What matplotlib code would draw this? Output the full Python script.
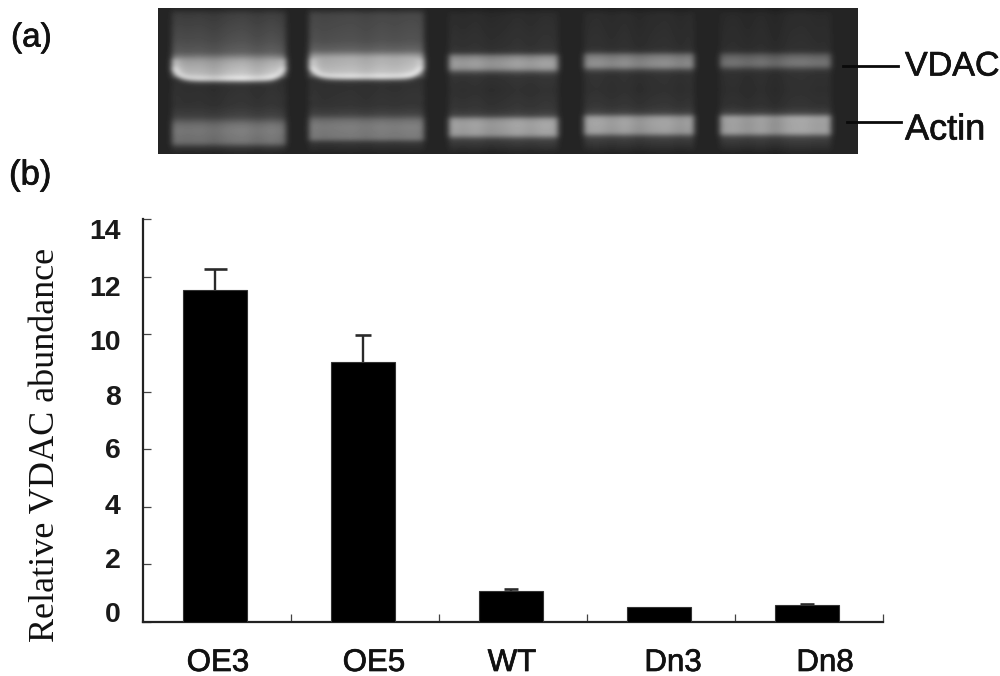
import numpy as np
import matplotlib
matplotlib.use("Agg")
import matplotlib.pyplot as plt
import matplotlib.patheffects as pe
from matplotlib.transforms import Affine2D

# ---- chart data ----
categories = ["OE3", "OE5", "WT", "Dn3", "Dn8"]
abundance = [11.53, 9.03, 1.08, 0.51, 0.58]
error_up = [0.73, 0.94, 0.07, 0.0, 0.05]
y_ticks = [0, 2, 4, 6, 8, 10, 12, 14]

# ---- gel picture description (grey levels, pixel rows of the figure) ----
lane_edges = [(171, 285), (308, 423), (448, 557), (583, 693), (719, 830)]
lane_rows = [
    [8, 14, 40, 52, 60, 64, 74, 79, 82, 86, 105, 116, 124, 130, 142, 147, 154],
    [8, 14, 40, 50, 57, 62, 72, 77, 80, 84, 105, 114, 120, 126, 138, 142, 154],
    [8, 14, 46, 52, 56, 62, 68, 72, 76, 90, 108, 115, 119, 124, 134, 139, 154],
    [8, 14, 46, 51, 55, 61, 66, 70, 74, 90, 106, 113, 117, 122, 132, 137, 154],
    [8, 14, 46, 51, 55, 61, 65, 69, 73, 90, 106, 113, 117, 122, 132, 137, 154],
]
lane_grey = [
    [38, 62, 78, 92, 160, 170, 190, 240, 68, 48, 52, 66, 112, 122, 112, 55, 33],
    [38, 70, 80, 98, 170, 175, 190, 240, 68, 48, 52, 66, 112, 125, 118, 55, 33],
    [33, 44, 50, 56, 135, 158, 150, 75, 52, 48, 54, 68, 152, 162, 155, 66, 33],
    [33, 44, 48, 54, 120, 140, 138, 70, 50, 48, 54, 68, 155, 162, 155, 66, 33],
    [33, 42, 46, 50, 95, 115, 110, 62, 48, 46, 50, 68, 162, 158, 158, 66, 33],
]
lane_mottle = [
    [1.00, 0.96, 0.98, 0.92, 1.02, 1.06, 0.97, 1.05, 0.95],
    [1.03, 0.97, 1.00, 1.02, 0.97, 1.03, 1.00, 1.04, 1.02],
    [1.03, 0.97, 1.02, 0.93, 0.97, 1.04, 0.98, 1.05, 1.02],
    [1.00, 1.04, 0.96, 1.03, 0.92, 1.00, 1.03, 0.94, 1.02],
    [0.97, 1.02, 0.94, 1.02, 0.90, 1.04, 1.06, 1.00, 1.02],
]
smile_lanes = [0, 1]
GEL_BOX = (157.5, 8, 857, 154)
BACKGROUND = 36

W, H = 1000, 676
plt.rcParams["font.family"] = ["Liberation Sans", "DejaVu Sans"]
fig = plt.figure(figsize=(W / 100, H / 100), dpi=100, facecolor="white")
STROKE = [pe.withStroke(linewidth=0.5, foreground="#111111")]


def box(l, t, r, b):
    return [l / W, 1 - b / H, (r - l) / W, (b - t) / H]


def blur(a, sigma, axis):
    n = int(3 * sigma)
    k = np.exp(-0.5 * (np.arange(-n, n + 1) / sigma) ** 2)
    k /= k.sum()
    pad = [(n, n) if i == axis else (0, 0) for i in range(2)]
    a = np.pad(a, pad, mode="edge")
    return np.apply_along_axis(lambda v: np.convolve(v, k, mode="valid"), axis, a)


# ---- gel (a) ----
l, t, r, b = GEL_BOX
xs = np.arange(l, r)
ys = np.arange(t, b)
gel = np.full((len(ys), len(xs)), float(BACKGROUND))
for i, (x0, x1) in enumerate(lane_edges):
    for j, x in enumerate(xs):
        if not x0 <= x <= x1:
            continue
        d = min(x - x0, x1 - x)
        shift = 12 * np.exp(-d / 6.0) if i in smile_lanes else 0
        col = np.interp(ys + shift * ((ys > 66) & (ys < 100)), lane_rows[i], lane_grey[i])
        mott = np.interp((x - x0) / (x1 - x0), np.linspace(0, 1, 9), lane_mottle[i])
        col = col * mott
        if i in smile_lanes:
            col = col + 70 * np.exp(-d / 4.0) * ((ys > 58) & (ys < 78))
        gel[:, j] = col
gel = blur(blur(gel, 2.0, 0), 3.0, 1)
gel_ax = fig.add_axes(box(l, t, r, b))
gel_ax.imshow(np.clip(gel, 0, 255), cmap="gray", vmin=0, vmax=255, aspect="auto",
              interpolation="bilinear")
gel_ax.axis("off")

# leader lines and band labels
fig.add_artist(plt.Line2D([843 / W, 898 / W], [1 - 65.5 / H] * 2, color="#0a0a0a", lw=2.0))
fig.add_artist(plt.Line2D([847 / W, 901 / W], [1 - 122 / H] * 2, color="#0a0a0a", lw=2.0))
fig.text(905 / W, 1 - 67 / H, "VDAC", fontsize=24.5, va="center", ha="left", color="#111111", path_effects=STROKE)
fig.text(905 / W, 1 - 130 / H, "Actin", fontsize=26, va="center", ha="left", color="#111111", path_effects=STROKE)
fig.text(11 / W, 1 - 38 / H, "(a)", fontsize=24, va="center", ha="left", color="#111111", path_effects=STROKE)
fig.text(9 / W, 1 - 175 / H, "(b)", fontsize=25, va="center", ha="left", color="#111111", path_effects=STROKE)

# ---- bar chart (b) ----
ax = fig.add_axes(box(143, 219, 883, 621.7))
ax.set_xlim(0, 5)
ax.set_ylim(0, 14)
pos = np.arange(len(categories)) + 0.487
ax.bar(pos, abundance, width=0.43, color="black", edgecolor="#333333", linewidth=0.8, zorder=3)
cap_half = [0.078, 0.053, 0.05, 0, 0.045]
for p, v, e, c in zip(pos, abundance, error_up, cap_half):
    if e > 0:
        ax.vlines(p, v, v + e, color="#2a2a2a", lw=1.7, zorder=2)
        ax.hlines(v + e, p - c, p + c, color="#2a2a2a", lw=1.9, zorder=2)

for s in ("top", "right"):
    ax.spines[s].set_visible(False)
for s in ("left", "bottom"):
    ax.spines[s].set_linewidth(1.6)
    ax.spines[s].set_color("#222222")

ax.set_yticks(y_ticks)
ax.set_yticklabels([str(v) for v in y_ticks], fontsize=20.5, fontweight="bold", color="#1a1a1a")
ax.tick_params(axis="y", direction="in", length=6, width=0.9, color="#444444", pad=16)
ax.set_xticks(np.arange(1, 6))
ax.set_xticklabels([])
ax.tick_params(axis="x", direction="in", length=6, width=0.9, color="#444444")

# tick labels in the original sit slightly off their ticks (pixels, + is up)
for lab, dy in zip(ax.get_yticklabels(), [10, 6.5, 3, 1.5, -3.5, -6, -9, -10]):
    lab.set_transform(lab.get_transform() + Affine2D().translate(0, dy))

x_label_px = [218, 374, 512, 673, 825]
for name, xp in zip(categories, x_label_px):
    fig.text(xp / W, 1 - 663 / H, name, fontsize=22.5, ha="center", va="center", color="#111111",
             path_effects=STROKE)

fig.text(46 / W, 1 - 445 / H, "Relative VDAC abundance", rotation=90, fontsize=26,
         family="Liberation Serif", ha="center", va="center", color="#111111")

fig.savefig("out.png", dpi=100, facecolor="white")
